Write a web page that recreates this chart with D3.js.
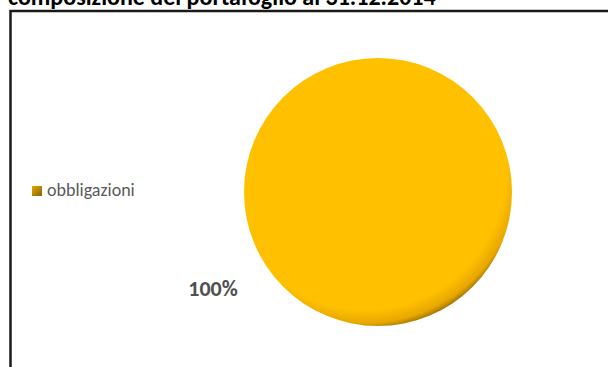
<!DOCTYPE html>
<html>
<head>
<meta charset="utf-8">
<script src="https://cdn.jsdelivr.net/npm/d3@7"></script>
<style>
  body { margin: 0; background: #fff; }
  svg { display: block; }
</style>
</head>
<body>
<div id="chart"></div>
<script>
// dati del grafico
var categorie = ["obbligazioni"];
var valori = [100];
var colori = ["#FFC000"];
var titolo = "composizione del portafoglio al 31.12.2014";

var width = 608, height = 367;
var cx = 378, cy = 192, raggio = 134;

var svg = d3.select("#chart").append("svg")
  .attr("width", width)
  .attr("height", height);

var defs = svg.append("defs");
var grad = defs.append("radialGradient")
  .attr("id", "ombra")
  .attr("cx", "45%").attr("cy", "41%")
  .attr("r", "61%");
grad.append("stop").attr("offset", "0.87").attr("stop-color", "#FFC000");
grad.append("stop").attr("offset", "0.95").attr("stop-color", "#E8A800");
grad.append("stop").attr("offset", "1").attr("stop-color", "#8F6800");

var gradLeg = defs.append("linearGradient")
  .attr("id", "leg").attr("x1", 0).attr("y1", 0).attr("x2", 1).attr("y2", 1);
gradLeg.append("stop").attr("offset", "0").attr("stop-color", "#E0A800");
gradLeg.append("stop").attr("offset", "1").attr("stop-color", "#8A6400");

// titolo (tagliato in alto come nell'originale)
svg.append("text")
  .attr("x", 8).attr("y", 5)
  .attr("font-family", "Carlito, Lato, 'Liberation Sans', sans-serif")
  .attr("font-weight", "bold")
  .attr("font-size", 24)
  .attr("fill", "#000")
  .text(titolo);

// cornice
svg.append("path")
  .attr("d", "M10.5," + (height + 2) + " L10.5,11 L" + (width + 2) + ",11")
  .attr("fill", "none")
  .attr("stroke", "#1a1a1a")
  .attr("stroke-width", 2.5);

// torta
var pie = d3.pie().sort(null).value(function(d) { return d; });
var arc = d3.arc().innerRadius(0).outerRadius(raggio);
var archi = pie(valori);

var g = svg.append("g").attr("transform", "translate(" + cx + "," + cy + ")");
g.selectAll("path.fetta")
  .data(archi).enter()
  .append("path")
  .attr("class", "fetta")
  .attr("d", arc)
  .attr("fill", function(d, i) { return i === 0 ? "url(#ombra)" : colori[i]; });

// etichetta percentuale
var tot = d3.sum(valori);
var etic = d3.arc().innerRadius(raggio + 61).outerRadius(raggio + 61);
g.selectAll("text.perc")
  .data(archi).enter()
  .append("text")
  .attr("class", "perc")
  .attr("transform", function(d) {
    var a = d.startAngle + (d.endAngle - d.startAngle) * 0.6605;
    var c = etic.centroid({startAngle: a, endAngle: a});
    return "translate(" + c[0] + "," + c[1] + ")";
  })
  .attr("text-anchor", "middle")
  .attr("font-family", "Carlito, Lato, 'Liberation Sans', sans-serif")
  .attr("font-weight", "bold")
  .attr("font-size", 22)
  .attr("fill", "#505050")
  .text(function(d) { return Math.round(d.value / tot * 100) + "%"; });

// legenda
var leg = svg.selectAll("g.leg")
  .data(categorie).enter()
  .append("g")
  .attr("class", "leg")
  .attr("transform", function(d, i) { return "translate(32," + (186 + i * 22) + ")"; });
leg.append("rect")
  .attr("width", 10).attr("height", 10)
  .attr("fill", "url(#leg)");
leg.append("text")
  .attr("x", 15).attr("y", 10)
  .attr("font-family", "Carlito, Lato, 'Liberation Sans', sans-serif")
  .attr("font-size", 18)
  .attr("fill", "#595959")
  .text(function(d) { return d; });
</script>
</body>
</html>
